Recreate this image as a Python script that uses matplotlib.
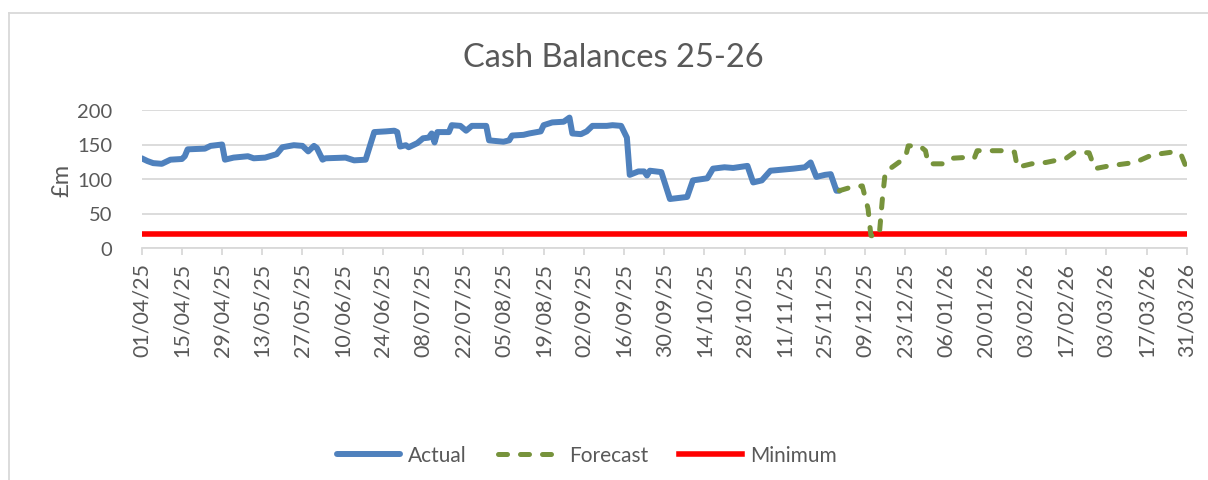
import matplotlib
matplotlib.use("Agg")
import matplotlib.pyplot as plt
import matplotlib.dates as mdates
from matplotlib.lines import Line2D
import numpy as np

# valores (dias desde 01/04/25, saldo em £m)
start = np.datetime64("2025-04-01")

actual_days = [0, 2, 4, 7, 8, 10, 14, 15, 16, 22, 24, 28, 29, 32, 37, 39, 43, 47, 49, 53,
               56, 58, 60, 61, 63, 64, 71, 74, 78, 81, 85, 88, 89, 90, 92, 93, 96, 98, 100, 101,
               102, 103, 107, 108, 111, 113, 115, 120, 121, 126, 128, 129, 133, 135, 139, 140, 143, 147, 149, 150,
               153, 155, 157, 162, 164, 167, 169, 170, 173, 175, 176, 177, 181, 184, 190, 192, 197, 199, 203, 206,
               211, 213, 216, 219, 227, 231, 233, 235, 238, 240, 242, 243]
actual_values = [130, 126, 123, 122, 124, 128, 129, 133, 143, 144, 148, 150, 128, 131, 133, 130, 131, 136, 146, 149,
                 148, 140, 148, 145, 128, 130, 131, 127, 128, 168, 169, 170, 168, 147, 149, 146, 152, 159, 160, 166,
                 153, 168, 168, 178, 177, 170, 177, 177, 156, 154, 156, 163, 164, 166, 169, 178, 182, 183, 189, 166,
                 165, 169, 177, 177, 178, 177, 160, 106, 111, 111, 105, 112, 110, 71, 74, 98, 101, 115, 117, 116,
                 119, 95, 98, 112, 115, 117, 124, 103, 106, 107, 83, 83]

forecast_days = [243, 247, 251, 253, 254, 256, 257, 258, 259, 263, 266, 267, 271, 273, 274, 279, 282, 286, 290, 291,
                 300, 304, 305, 310, 315, 322, 325, 330, 332, 337, 346, 352, 359, 362, 364]
forecast_values = [83, 88, 90, 57, 18, 16, 23, 71, 110, 122, 131, 148, 148, 141, 122, 122, 130, 131, 130, 141,
                   141, 139, 117, 122, 124, 130, 139, 138, 115, 119, 124, 135, 139, 136, 115]

minimum_days = [0, 364]
minimum_values = [20, 20]

tick_dates = np.arange(start, start + np.timedelta64(365, "D"), np.timedelta64(14, "D"))

def to_dates(days):
    return start + np.array(days, dtype="timedelta64[D]")

plt.rcParams["font.family"] = ["Lato", "DejaVu Sans"]
cor_texto = "#595959"
cor_grade = "#D9D9D9"

fig = plt.figure(figsize=(12.08, 4.81), dpi=100)
ax = fig.add_axes([141.7 / 1208, 1 - 249 / 481, 1045 / 1208, 138 / 481])

ax.plot(to_dates(actual_days), actual_values, color="#4F81BD", lw=4.3,
        solid_joinstyle="round", solid_capstyle="round", label="Actual", zorder=3)
ax.plot(to_dates(forecast_days), forecast_values, color="#77933C", lw=3.6,
        linestyle=(0, (1.8, 2.6)), dash_capstyle="round", dash_joinstyle="round",
        label="Forecast", zorder=3)
ax.plot(to_dates(minimum_days), minimum_values, color="#FF0000", lw=4.0,
        label="Minimum", zorder=2)

ax.set_xlim(start, start + np.timedelta64(364, "D"))
ax.set_ylim(0, 200)
ax.set_yticks([0, 50, 100, 150, 200])
ax.set_xticks(tick_dates)
ax.xaxis.set_major_formatter(mdates.DateFormatter("%d/%m/%y"))

ax.grid(axis="y", color=cor_grade, lw=1.3)
ax.set_axisbelow(True)
for lado in ["top", "right", "left"]:
    ax.spines[lado].set_visible(False)
ax.spines["bottom"].set_color(cor_grade)
ax.spines["bottom"].set_linewidth(1.3)

ax.tick_params(axis="x", colors=cor_grade, length=5, width=1.3, rotation=90,
               labelcolor=cor_texto, labelsize=15.5, pad=5)
ax.tick_params(axis="y", length=0, labelcolor=cor_texto, labelsize=14.5, pad=21)

fig.text(613 / 1208, 1 - 58 / 481, "Cash Balances 25-26", ha="center", va="center",
         fontsize=23.5, color=cor_texto)
fig.text(62 / 1208, 1 - 180 / 481, "£m", ha="center", va="center", rotation=90,
         fontsize=17, color=cor_texto)

fig.legend(loc="center", bbox_to_anchor=(587 / 1208, 1 - 456 / 481), ncol=3, frameon=False,
           fontsize=15, labelcolor=cor_texto, handlelength=3.0, handletextpad=0.4,
           columnspacing=1.5)

# moldura (só esquerda e topo)
fig.add_artist(Line2D([9 / 1208, 9 / 1208], [0, 1 - 13.5 / 481], color=cor_grade, lw=1.3))
fig.add_artist(Line2D([9 / 1208, 1], [1 - 13.5 / 481, 1 - 13.5 / 481], color=cor_grade, lw=1.3))

fig.savefig("out.png", dpi=100)
